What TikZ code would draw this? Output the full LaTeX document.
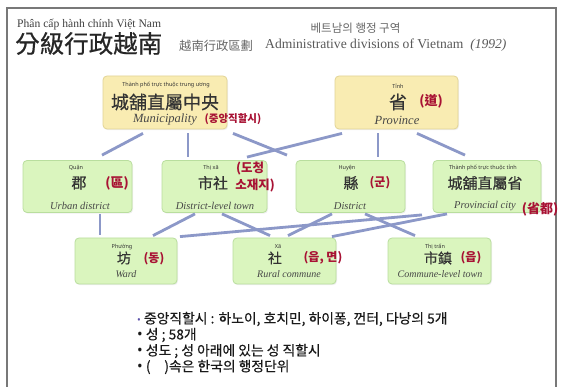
\documentclass[tikz,border=0pt]{standalone}
\usepackage{fontspec}
\usetikzlibrary{shadows}
\setmainfont{Liberation Serif}
\newfontfamily\cjk[FakeBold=0.5]{Noto Sans CJK TC}
\newfontfamily\cjkt{Noto Sans CJK TC}
\newfontfamily\kr{Noto Sans CJK KR}
\newfontfamily\krm[FakeBold=0.4]{Noto Sans CJK KR}
\newfontfamily\vs{Noto Sans}
\definecolor{connc}{RGB}{140,152,200}
\definecolor{yfill}{RGB}{249,236,178}
\definecolor{ydraw}{RGB}{226,212,150}
\definecolor{gfill}{RGB}{218,245,190}
\definecolor{gdraw}{RGB}{185,222,158}
\definecolor{redlab}{RGB}{168,18,52}
\definecolor{framec}{RGB}{120,120,120}
\definecolor{engc}{RGB}{70,70,70}
\definecolor{bulc}{RGB}{90,80,170}
\newcommand{\bdot}{{\vs\fontsize{15}{15}\selectfont•}}
\tikzset{
  boxshadow/.style={drop shadow={shadow xshift=1pt,shadow yshift=-1.2pt,opacity=0.12}},
  ybox/.style={draw=ydraw,fill=yfill,rounded corners=4pt,line width=0.8pt,boxshadow},
  gbox/.style={draw=gdraw,fill=gfill,rounded corners=4pt,line width=0.8pt,boxshadow},
  conn/.style={draw=connc,line width=2.8pt},
  txt/.style={inner sep=0pt,anchor=center},
  small/.style={txt,font=\vs\fontsize{5.5}{6}\selectfont,text=black!80},
  eng/.style={txt,font=\fontsize{10.5}{12}\selectfont\itshape,text=engc},
  engs/.style={txt,font=\fontsize{10}{11}\selectfont\itshape,text=engc},
  hz/.style={txt,text=black!80},
  red/.style={txt,font=\kr\bfseries\fontsize{12}{13}\selectfont,text=redlab},
  redc/.style={txt,font=\cjkt\bfseries\fontsize{12}{13}\selectfont,text=redlab},
  bul/.style={inner sep=0pt,anchor=west,font=\krm\fontsize{13.8}{15}\selectfont,text=black!90}
}
\begin{document}
\begin{tikzpicture}[x=1pt,y=-1pt]
\useasboundingbox (0,0) rectangle (562,387);
\fill[white] (0,0) rectangle (562,387);
% frame
\draw[framec,line width=1.4pt] (7,400) -- (7,8) -- (556,8) -- (556,400);
% title
\node[txt,anchor=west,font=\fontsize{11.6}{13}\selectfont,text=black!75] (t1) at (17,25) {Phân cấp hành chính Việt Nam};
\node[txt,anchor=west,font=\cjk\fontsize{24.5}{26}\selectfont,text=black!85] (t2) at (15,43.5) {分級行政越南};
\node[txt,anchor=west,font=\cjkt\fontsize{12.3}{13}\selectfont,text=black!60] (t3) at (179,46) {越南行政區劃};
\node[txt,anchor=west,font=\fontsize{13.6}{15}\selectfont,text=black!65] (t4) at (265,45.5) {Administrative divisions of Vietnam \ \textit{(1992)}};
\node[txt,font=\kr\fontsize{11.5}{13}\selectfont,text=black!60] (t5) at (355.5,28) {베트남의 행정 구역};
% boxes
\node[ybox,minimum width=124pt,minimum height=53pt] (mun) at (165,102.5) {};
\node[ybox,minimum width=123pt,minimum height=53pt] (prov) at (396.5,102.5) {};
\node[gbox,minimum width=109pt,minimum height=52pt] (ud) at (77.5,186.5) {};
\node[gbox,minimum width=105pt,minimum height=52pt] (dlt) at (214.5,186.5) {};
\node[gbox,minimum width=109pt,minimum height=52pt] (dis) at (350.5,186.5) {};
\node[gbox,minimum width=108pt,minimum height=52pt] (pc) at (487,186.5) {};
\node[gbox,minimum width=102pt,minimum height=46pt] (ward) at (126,261) {};
\node[gbox,minimum width=103pt,minimum height=46pt] (rc) at (284.5,261) {};
\node[gbox,minimum width=103pt,minimum height=46pt] (clt) at (439.5,261) {};
% connectors level 1
\draw[conn] ([xshift=-22pt,yshift=-4pt]mun.south) -- ([xshift=24.5pt,yshift=5pt]ud.north);
\draw[conn] ([xshift=23pt,yshift=-4pt]mun.south) -- ([xshift=-26.5pt,yshift=3pt]dlt.north);
\draw[conn] ([xshift=68pt,yshift=-4pt]mun.south) -- ([xshift=-63.5pt,yshift=5pt]dis.north);
\draw[conn] ([xshift=-54.5pt,yshift=-4pt]prov.south) -- ([xshift=32.5pt,yshift=3pt]dlt.north);
\draw[conn] ([xshift=-18.5pt,yshift=-4pt]prov.south) -- ([xshift=27.5pt,yshift=3pt]dis.north);
\draw[conn] ([xshift=20.5pt,yshift=-4pt]prov.south) -- ([xshift=-22pt,yshift=5pt]pc.north);
% connectors level 2
\draw[conn] ([xshift=22.5pt,yshift=-1pt]ud.south) -- ([xshift=-26pt,yshift=3pt]ward.north);
\draw[conn] ([xshift=-19.5pt,yshift=-1pt]dlt.south) -- ([xshift=27pt,yshift=2pt]ward.north);
\draw[conn] ([xshift=7.5pt,yshift=-1pt]dlt.south) -- ([xshift=-14.5pt,yshift=2pt]rc.north);
\draw[conn] ([xshift=-18.5pt,yshift=-1pt]dis.south) -- ([xshift=3.5pt,yshift=2pt]rc.north);
\draw[conn] ([xshift=14.5pt,yshift=-1pt]dis.south) -- ([xshift=-24.5pt,yshift=2pt]clt.north);
\draw[conn] ([xshift=-65pt,yshift=-2pt]pc.south) -- ([xshift=54pt,yshift=1pt]ward.north);
\draw[conn] ([xshift=-40pt,yshift=-1pt]pc.south) -- ([xshift=47.5pt,yshift=1pt]rc.north);
% municipality texts
\node[small] (munv) at (166,85) {Thành phố trực thuộc trung ương};
\node[hz,font=\cjk\fontsize{18}{20}\selectfont] (munc) at (165,102) {城舖直屬中央};
\node[txt,font=\fontsize{12.5}{14}\selectfont\itshape,text=engc] (mune) at (165,120) {Municipality};
\node[red,font=\kr\bfseries\fontsize{10.5}{12}\selectfont] (munr) at (233,119) {(중앙직할시)};
% province texts
\node[small] (provv) at (398,86) {Tỉnh};
\node[hz,font=\cjk\fontsize{18}{20}\selectfont] (provc) at (398,102) {省};
\node[txt,font=\fontsize{12.5}{14}\selectfont\itshape,text=engc] (prove) at (397,120) {Province};
\node[redc,font=\cjkt\bfseries\fontsize{13}{14}\selectfont] (provr) at (431,101) {(道)};
% urban district
\node[small] (udv) at (76,168) {Quận};
\node[hz,font=\cjk\fontsize{15}{17}\selectfont] (udc) at (79,183) {郡};
\node[eng] (ude) at (80,206) {Urban district};
\node[redc,font=\cjkt\bfseries\fontsize{13}{14}\selectfont] (udr) at (117,183) {(區)};
% district-level town
\node[small] (dltv) at (211,168) {Thị xã};
\node[hz,font=\cjk\fontsize{15}{17}\selectfont] (dltc) at (213,183) {市社};
\node[eng] (dlte) at (215,206) {District-level town};
\node[red,font=\kr\bfseries\fontsize{12.5}{13}\selectfont] (dltr1) at (250,168) {(도청};
\node[red,font=\kr\bfseries\fontsize{12.5}{13}\selectfont] (dltr2) at (255,185.5) {소재지)};
% district
\node[small] (disv) at (347,168) {Huyện};
\node[hz,font=\cjk\fontsize{15}{17}\selectfont] (disc) at (351,183) {縣};
\node[eng] (dise) at (350,206) {District};
\node[red] (disr) at (380,183) {(군)};
% provincial city
\node[small] (pcv) at (483,168) {Thành phố trực thuộc tỉnh};
\node[hz,font=\cjk\fontsize{15}{17}\selectfont] (pcc) at (485,183) {城舖直屬省};
\node[eng] (pce) at (485,206) {Provincial city};
\node[redc,font=\cjkt\bfseries\fontsize{13}{14}\selectfont] (pcr) at (540,209) {(省都)};
% ward
\node[small] (wardv) at (122,247) {Phường};
\node[hz,font=\cjk\fontsize{14}{16}\selectfont] (wardc) at (124,258) {坊};
\node[engs] (warde) at (126,274) {Ward};
\node[red] (wardr) at (154,259) {(동)};
% rural commune
\node[small] (rcv) at (278,247) {Xã};
\node[hz,font=\cjk\fontsize{14}{16}\selectfont] (rcc) at (275,258) {社};
\node[engs] (rce) at (289,274) {Rural commune};
\node[red] (rcr) at (323,258) {(읍, 면)};
% commune-level town
\node[small] (cltv) at (435,247) {Thị trấn};
\node[hz,font=\cjk\fontsize{14}{16}\selectfont] (cltc) at (438,258) {市鎮};
\node[engs] (clte) at (440,274) {Commune-level town};
\node[red] (cltr) at (471,258) {(읍)};
% bullets
\node[bul] (b1) at (137,319) {{\color{bulc}\vs\fontsize{10}{10}\selectfont•} 중앙직할시 : 하노이, 호치민, 하이퐁, 껀터, 다낭의 5개};
\node[bul] (b2) at (137,335) {\bdot\ 성 ; 58개};
\node[bul] (b3) at (137,351) {\bdot\ 성도 ; 성 아래에 있는 성 직할시};
\node[bul] (b4) at (137,367) {\bdot\ (\quad)속은 한국의 행정단위};
\end{tikzpicture}
\end{document}
